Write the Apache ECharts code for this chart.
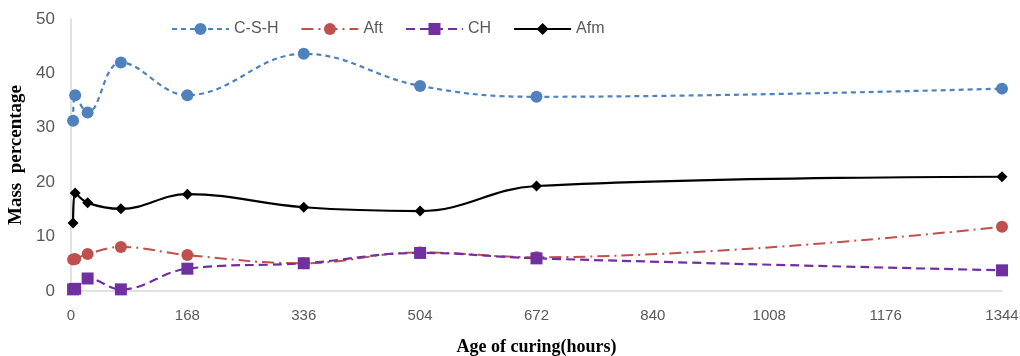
<!DOCTYPE html>
<html>
<head>
<meta charset="utf-8">
<script src="https://cdn.jsdelivr.net/npm/echarts@6/dist/echarts.min.js"></script>
<style>
  html, body { margin: 0; padding: 0; background: #fff; }
  #graph1 { width: 1020px; height: 356px; }
</style>
</head>
<body>
<div id="graph1"></div>
<script>
var hours = [3, 6, 24, 72, 168, 336, 504, 672, 1344];
var csh = [31.3, 36.0, 32.8, 42.0, 36.0, 43.6, 37.7, 35.7, 37.2];
var aft = [5.8, 5.9, 6.8, 8.1, 6.6, 5.1, 7.1, 6.2, 11.8];
var ch  = [0.3, 0.4, 2.3, 0.3, 4.1, 5.1, 7.0, 6.0, 3.8];
var afm = [12.5, 18.0, 16.2, 15.1, 17.8, 15.4, 14.7, 19.3, 21.0];
var xTicks = [0, 168, 336, 504, 672, 840, 1008, 1176, 1344];
var yTicks = [0, 10, 20, 30, 40, 50];

function pairs(ys) {
  var out = [];
  for (var i = 0; i < hours.length; i++) {
    out.push([hours[i], ys[i]]);
  }
  return out;
}

var myChart1 = echarts.init(document.getElementById('graph1'));

var option = {
  animation: false,
  backgroundColor: '#fff',
  grid: { left: 71, right: 18, top: 19, bottom: 65, containLabel: false, outerBoundsMode: 'none' },
  legend: {
    top: 16,
    left: 166,
    itemWidth: 57,
    itemHeight: 15,
    itemGap: 22,
    textStyle: { color: '#595959', fontSize: 16, fontFamily: 'Liberation Sans Narrow, Liberation Sans, sans-serif' },
    data: ['C-S-H', 'Aft', 'CH', 'Afm']
  },
  xAxis: {
    type: 'value',
    min: xTicks[0],
    max: xTicks[xTicks.length - 1],
    interval: 168,
    name: 'Age of curing(hours)',
    nameLocation: 'middle',
    nameGap: 47,
    nameTextStyle: { fontFamily: 'Liberation Serif, serif', fontWeight: 'bold', fontSize: 18, color: '#000' },
    axisLine: { lineStyle: { color: '#d9d9d9', width: 1.5 } },
    axisTick: { show: false },
    splitLine: { show: false },
    axisLabel: {
      color: '#595959', fontSize: 15, margin: 17,
      fontFamily: 'Liberation Sans Narrow, Liberation Sans, sans-serif',
      formatter: function (v) { return String(v); }
    }
  },
  yAxis: {
    type: 'value',
    min: yTicks[0],
    max: yTicks[yTicks.length - 1],
    interval: 10,
    name: 'Mass  percentage',
    nameLocation: 'middle',
    nameGap: 44,
    nameTextStyle: { fontFamily: 'Liberation Serif, serif', fontWeight: 'bold', fontSize: 19, color: '#000' },
    axisLine: { show: true, lineStyle: { color: '#d9d9d9', width: 1.5 } },
    axisTick: { show: false },
    splitLine: { show: false },
    axisLabel: { color: '#595959', fontSize: 17, margin: 16, fontFamily: 'Liberation Sans, sans-serif' }
  },
  series: [
    {
      name: 'C-S-H', type: 'line', smooth: 0.4, data: pairs(csh),
      symbol: 'circle', symbolSize: 12,
      itemStyle: { color: '#4f81bd' },
      lineStyle: { color: '#4f81bd', width: 2.2, type: [5, 4] }
    },
    {
      name: 'Aft', type: 'line', smooth: 0.4, data: pairs(aft),
      symbol: 'circle', symbolSize: 12,
      itemStyle: { color: '#c0504d' },
      lineStyle: { color: '#c0504d', width: 2, type: [12, 5, 2, 5] }
    },
    {
      name: 'CH', type: 'line', smooth: 0.4, data: pairs(ch),
      symbol: 'rect', symbolSize: 12,
      itemStyle: { color: '#7030a0' },
      lineStyle: { color: '#7030a0', width: 2.2, type: [9, 5] }
    },
    {
      name: 'Afm', type: 'line', smooth: 0.4, data: pairs(afm),
      symbol: 'diamond', symbolSize: 11,
      itemStyle: { color: '#000' },
      lineStyle: { color: '#000', width: 2.2, type: 'solid' }
    }
  ]
};
myChart1.setOption(option);
</script>
</body>
</html>
